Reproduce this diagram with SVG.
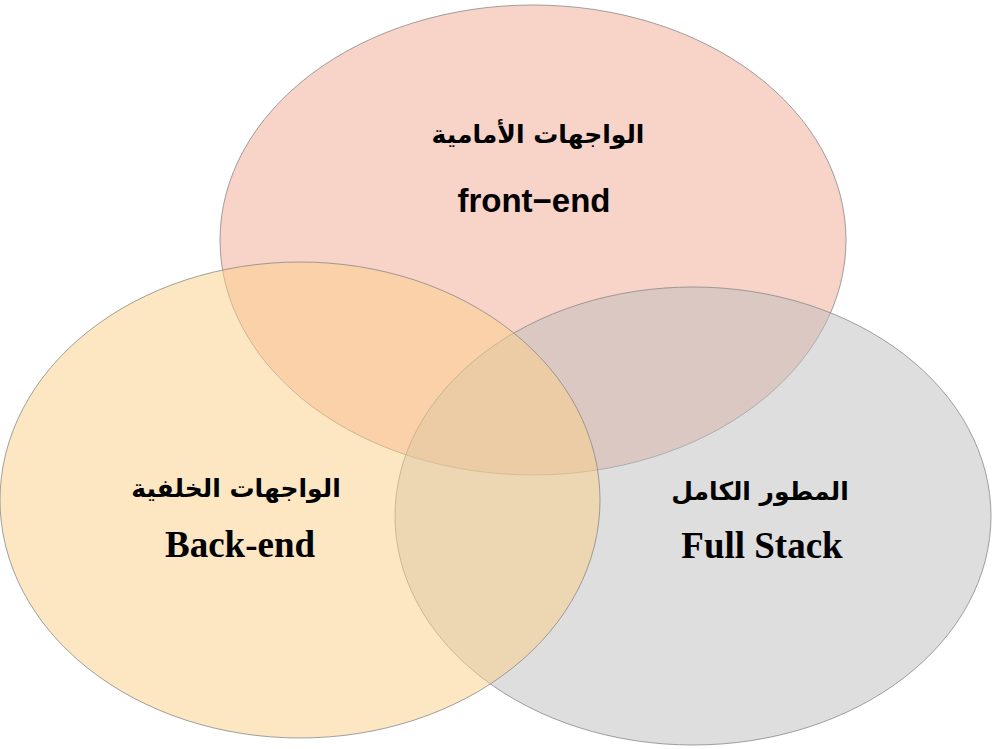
<svg xmlns="http://www.w3.org/2000/svg" width="992" height="749" viewBox="0 0 992 749">
  <style>
    .set { stroke: #8a8a8a; stroke-opacity: 0.8; stroke-width: 1; }
    .front { fill: #f1a891; fill-opacity: 0.5; }
    .back { fill: #fbd088; fill-opacity: 0.5; }
    .full { fill: #bdbdbd; fill-opacity: 0.5; }
    .ar { font-family: "DejaVu Sans", "Noto Sans", sans-serif; font-weight: bold; font-size: 25px; fill: #000; text-anchor: middle; }
    .sans { font-family: "Liberation Sans", Arial, sans-serif; font-weight: bold; font-size: 33px; fill: #000; text-anchor: middle; }
    .serif { font-family: "Liberation Serif", "Times New Roman", serif; font-weight: bold; font-size: 37px; fill: #000; text-anchor: middle; }
  </style>
  <rect width="992" height="749" fill="#ffffff"/>
  <g id="front-end">
    <ellipse class="set front" cx="533" cy="240" rx="313" ry="235"/>
  </g>
  <g id="full-stack">
    <ellipse class="set full" cx="693" cy="516" rx="298" ry="229"/>
  </g>
  <g id="back-end">
    <ellipse class="set back" cx="300" cy="500" rx="300" ry="238"/>
  </g>
  <g id="labels">
    <text class="ar" x="538" y="143" direction="rtl">الواجهات الأمامية</text>
    <text class="sans" x="534" y="212">front−end</text>
    <text class="ar" x="236" y="497" direction="rtl">الواجهات الخلفية</text>
    <text class="serif" x="240" y="557">Back-end</text>
    <text class="ar" x="760" y="500" direction="rtl">المطور الكامل</text>
    <text class="serif" x="762" y="558">Full Stack</text>
  </g>
</svg>
